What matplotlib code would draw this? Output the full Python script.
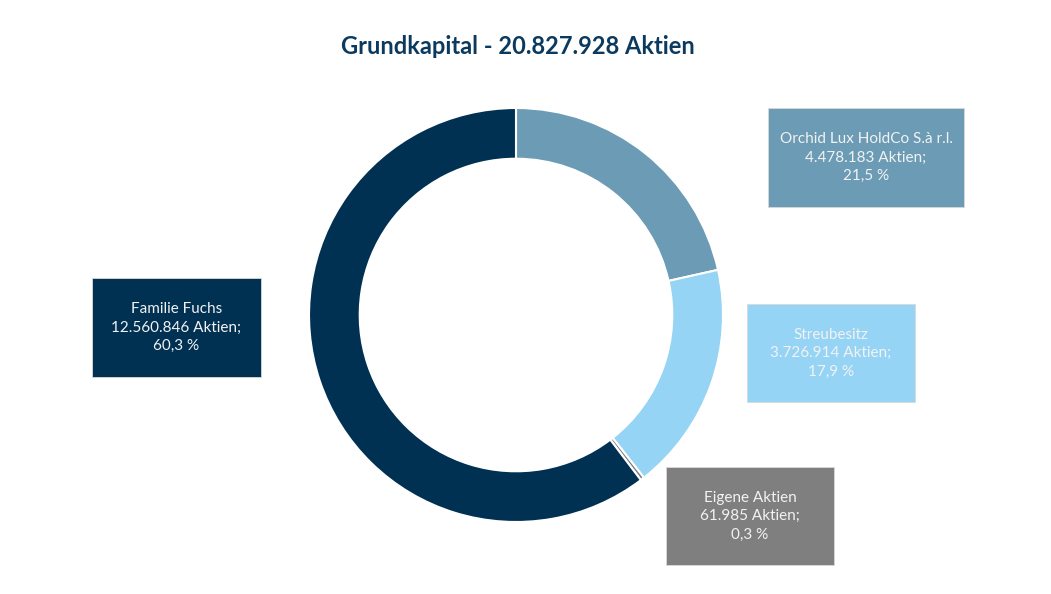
import matplotlib.pyplot as plt
from matplotlib.patches import Rectangle

plt.rcParams['font.family'] = ['Lato', 'DejaVu Sans']

# Daten
labels = ['Orchid Lux HoldCo S.à r.l.', 'Streubesitz', 'Eigene Aktien', 'Familie Fuchs']
aktien = [4478183, 3726914, 61985, 12560846]
anteile = ['21,5 %', '17,9 %', '0,3 %', '60,3 %']
farben = ['#6b9bb5', '#96d4f6', '#7f7f7f', '#003152']
titel = 'Grundkapital - 20.827.928 Aktien'

W, H = 1051, 594
fig = plt.figure(figsize=(W / 100, H / 100), dpi=100)
ax = fig.add_axes([0, 0, 1, 1])

# Ring
cx, cy, r = 516, H - 315, 207
ax.pie(aktien, colors=farben, startangle=90, counterclock=False,
       center=(cx, cy), radius=r, frame=True,
       wedgeprops=dict(width=r * 0.245, edgecolor='white', linewidth=1.5))
ax.set_xlim(0, W)
ax.set_ylim(0, H)
ax.set_aspect('equal')
ax.axis('off')

# Beschriftungsboxen (x, y oben, Breite, Höhe in Pixeln)
boxen = [(768, 108, 196, 99), (747, 304, 168, 98), (666, 467, 168, 98), (92, 278, 169, 99)]

def fmt(n):
    return f'{n:,}'.replace(',', '.')

for (bx, by, bw, bh), lab, n, p, c in zip(boxen, labels, aktien, anteile, farben):
    ax.add_patch(Rectangle((bx, H - by - bh), bw, bh, facecolor=c,
                           edgecolor='#d9d9d9', linewidth=0.6, zorder=3))
    ax.text(bx + bw / 2, H - by - bh / 2, f'{lab}\n{fmt(n)} Aktien;\n{p}',
            ha='center', va='center', color='#f2f2f2', fontsize=11,
            linespacing=1.4, zorder=4)

ax.text(518, H - 46, titel, ha='center', va='center', fontsize=17,
        fontweight='bold', color='#0b3a5e')

fig.savefig('out.png', dpi=100)
